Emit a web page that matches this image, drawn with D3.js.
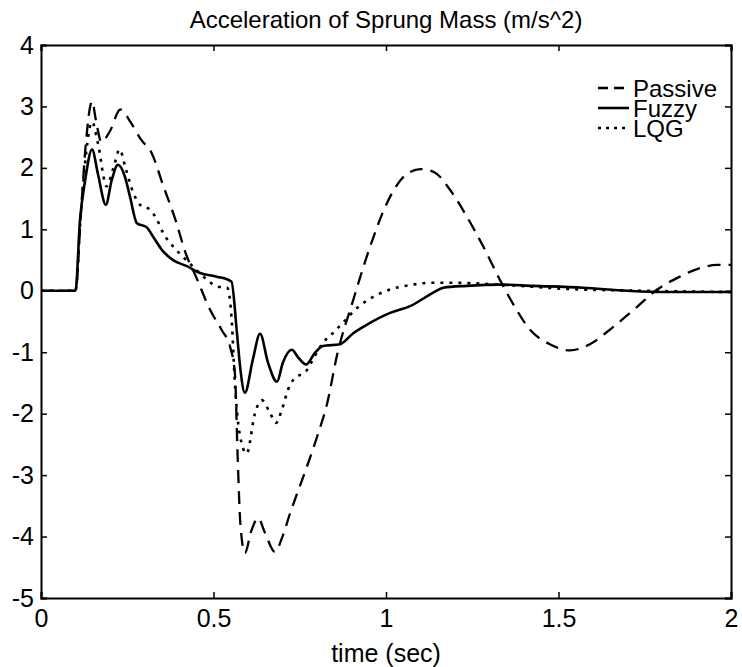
<!DOCTYPE html>
<html>
<head>
<meta charset="utf-8">
<script src="https://cdn.jsdelivr.net/npm/d3@7"></script>
<style>
body { margin: 0; background: #fff; }
text { font-family: "Liberation Sans", Arial, sans-serif; fill: #000; }
</style>
</head>
<body>
<svg id="chart"></svg>
<script>
const chartTitle = "Acceleration of Sprung Mass (m/s^2)"
const xLabel = "time (sec)"
const xTicks = [0, 0.5, 1, 1.5, 2]
const yTicks = [-5, -4, -3, -2, -1, 0, 1, 2, 3, 4]
const seriesNames = ["Passive", "Fuzzy", "LQG"]

const passiveT = [0, 0.1, 0.115, 0.13, 0.148, 0.16, 0.175, 0.2, 0.23, 0.26, 0.29, 0.32, 0.355, 0.39, 0.42, 0.45, 0.49, 0.525, 0.548, 0.562, 0.57, 0.578, 0.591, 0.61, 0.629, 0.65, 0.678, 0.7, 0.722, 0.76, 0.8, 0.83, 0.858, 0.905, 0.954, 1.003, 1.06, 1.1, 1.14, 1.186, 1.234, 1.282, 1.33, 1.369, 1.417, 1.475, 1.533, 1.591, 1.658, 1.728, 1.786, 1.852, 1.91, 1.96, 2.0]
const passiveV = [0, 0, 1.2, 2.4, 3.08, 2.75, 2.42, 2.6, 2.95, 2.74, 2.46, 2.25, 1.7, 1.15, 0.6, 0.22, -0.31, -0.65, -0.91, -1.34, -2.7, -3.8, -4.27, -3.9, -3.7, -3.95, -4.25, -4.0, -3.62, -3.03, -2.38, -1.82, -1.05, -0.15, 0.72, 1.43, 1.9, 1.98, 1.93, 1.64, 1.21, 0.72, 0.18, -0.22, -0.63, -0.87, -0.97, -0.87, -0.59, -0.26, 0.02, 0.23, 0.37, 0.42, 0.42]

const fuzzyT = [0, 0.1, 0.113, 0.128, 0.148, 0.165, 0.188, 0.205, 0.223, 0.243, 0.258, 0.278, 0.307, 0.325, 0.354, 0.383, 0.423, 0.461, 0.51, 0.552, 0.568, 0.577, 0.591, 0.614, 0.635, 0.658, 0.684, 0.701, 0.727, 0.746, 0.768, 0.794, 0.817, 0.867, 0.905, 0.945, 1.012, 1.07, 1.137, 1.166, 1.234, 1.33, 1.426, 1.571, 1.7, 1.8, 2.0]
const fuzzyV = [0, 0, 1.15, 1.8, 2.3, 1.9, 1.4, 1.8, 2.05, 1.86, 1.53, 1.1, 1.03, 0.88, 0.64, 0.5, 0.4, 0.29, 0.23, 0.15, -0.69, -1.23, -1.66, -1.12, -0.7, -1.17, -1.48, -1.17, -0.96, -1.09, -1.2, -1.01, -0.9, -0.87, -0.69, -0.55, -0.36, -0.25, -0.03, 0.05, 0.08, 0.1, 0.08, 0.05, 0.0, -0.02, -0.02]

const lqgT = [0, 0.1, 0.115, 0.13, 0.148, 0.165, 0.19, 0.21, 0.228, 0.245, 0.267, 0.287, 0.316, 0.336, 0.354, 0.383, 0.412, 0.441, 0.481, 0.51, 0.54, 0.553, 0.562, 0.575, 0.596, 0.62, 0.64, 0.664, 0.681, 0.698, 0.716, 0.731, 0.771, 0.788, 0.817, 0.846, 0.875, 0.916, 0.963, 1.012, 1.078, 1.13, 1.2, 1.33, 1.524, 1.75, 2.0]
const lqgV = [0, 0, 1.2, 2.2, 2.75, 2.4, 1.7, 2.0, 2.3, 2.0, 1.6, 1.4, 1.32, 1.16, 0.94, 0.72, 0.55, 0.39, 0.18, 0.07, 0.05, -0.5, -1.5, -2.3, -2.65, -2.0, -1.78, -1.99, -2.15, -1.94, -1.61, -1.45, -1.29, -1.12, -0.85, -0.69, -0.52, -0.28, -0.1, 0.02, 0.1, 0.13, 0.13, 0.1, 0.03, 0.0, -0.02]

const width = 742, height = 667
const margin = {top: 45, right: 11, bottom: 69, left: 41}

const svg = d3.select("#chart")
    .attr("width", width)
    .attr("height", height)

const x = d3.scaleLinear().domain([0, 2]).range([margin.left, width - margin.right])
const y = d3.scaleLinear().domain([-5, 4]).range([height - margin.bottom, margin.top])

// series table built from the arrays
const series = [
    {name: seriesNames[0], pts: passiveT.map((t, i) => [t, passiveV[i]]), dash: "13,8", legDash: "10,6", w: 2.3},
    {name: seriesNames[1], pts: fuzzyT.map((t, i) => [t, fuzzyV[i]]), dash: null, legDash: null, w: 2.6},
    {name: seriesNames[2], pts: lqgT.map((t, i) => [t, lqgV[i]]), dash: "3,6", legDash: "3,5", w: 2.6}
]

const line = d3.line()
    .x(d => x(d[0]))
    .y(d => y(d[1]))
    .curve(d3.curveMonotoneX)

svg.selectAll("path.series")
    .data(series)
    .join("path")
    .attr("class", "series")
    .attr("d", d => line(d.pts))
    .attr("fill", "none")
    .attr("stroke", "#000")
    .attr("stroke-width", d => d.w)
    .attr("stroke-dasharray", d => d.dash)

// axes, ticks point inward like matlab; plain hyphen for negatives
const fs = "25px"
const plain = d => String(d)
svg.append("g")
    .attr("transform", `translate(0,${y(-5)})`)
    .call(d3.axisBottom(x).tickValues(xTicks).tickSize(-6).tickPadding(11).tickFormat(plain))
svg.append("g")
    .attr("transform", `translate(0,${y(4)})`)
    .call(d3.axisTop(x).tickValues(xTicks).tickSize(-6).tickFormat(""))
svg.append("g")
    .attr("transform", `translate(${x(0)},0)`)
    .call(d3.axisLeft(y).tickValues(yTicks).tickSize(-6).tickPadding(7).tickFormat(plain))
svg.append("g")
    .attr("transform", `translate(${x(2)},0)`)
    .call(d3.axisRight(y).tickValues(yTicks).tickSize(-6).tickFormat(""))

svg.selectAll(".domain").attr("stroke", "#000").attr("stroke-width", 2)
svg.selectAll(".tick line").attr("stroke", "#000").attr("stroke-width", 1.5)
svg.selectAll(".tick text")
    .attr("font-size", fs)
    .style("font-family", '"Liberation Sans", Arial, sans-serif')
    .attr("fill", "#000")

svg.append("text")
    .attr("x", (x(0) + x(2)) / 2)
    .attr("y", 28)
    .attr("text-anchor", "middle")
    .attr("font-size", "24px")
    .text(chartTitle)

svg.append("text")
    .attr("x", (x(0) + x(2)) / 2)
    .attr("y", 662)
    .attr("text-anchor", "middle")
    .attr("font-size", fs)
    .text(xLabel)

// legend
const legend = svg.append("g")
    .selectAll("g")
    .data(series)
    .join("g")
    .attr("transform", (d, i) => `translate(598,${88 + i * 20})`)

legend.append("line")
    .attr("x1", 0).attr("x2", 31)
    .attr("stroke", "#000")
    .attr("stroke-width", d => d.w)
    .attr("stroke-dasharray", d => d.legDash)

legend.append("text")
    .attr("x", 35)
    .attr("dy", "0.36em")
    .attr("font-size", "24px")
    .text(d => d.name)
</script>
</body>
</html>
